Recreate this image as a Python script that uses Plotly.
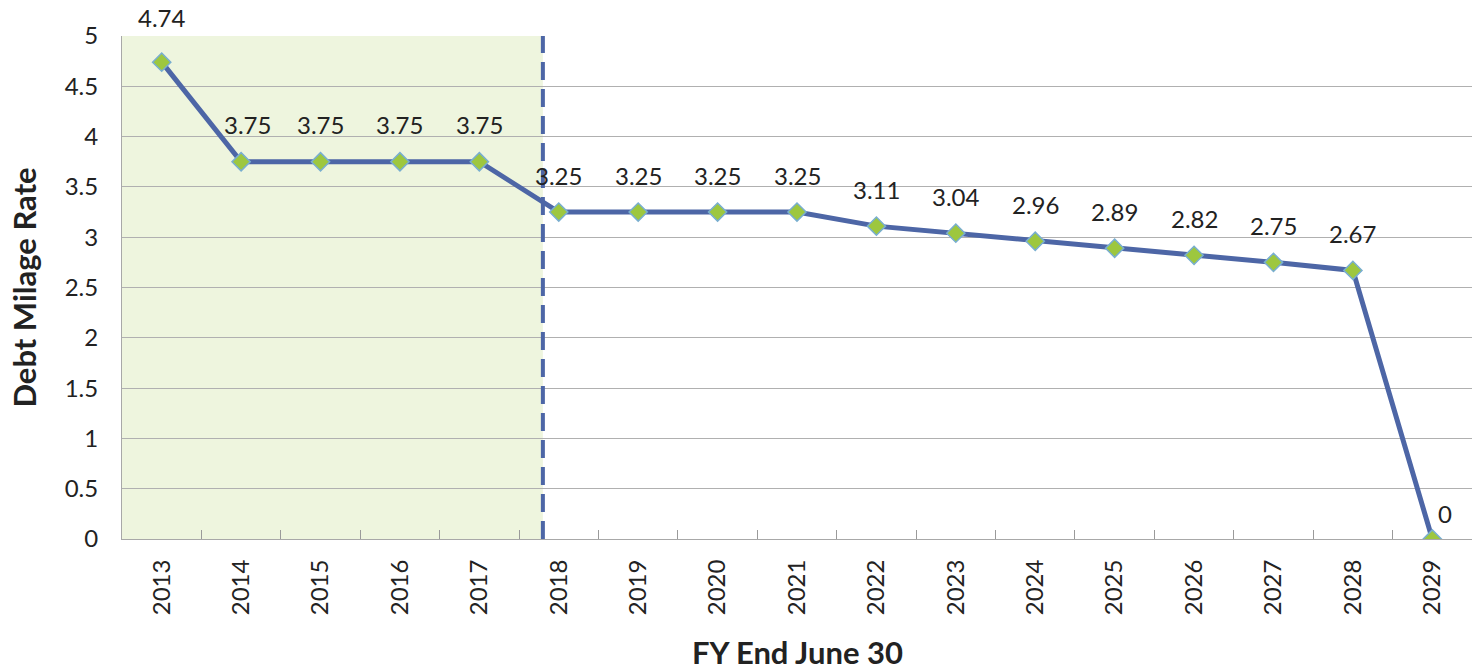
import plotly.graph_objects as go

years = ["2013", "2014", "2015", "2016", "2017", "2018", "2019", "2020", "2021",
         "2022", "2023", "2024", "2025", "2026", "2027", "2028", "2029"]
rates = [4.74, 3.75, 3.75, 3.75, 3.75, 3.25, 3.25, 3.25, 3.25,
         3.11, 3.04, 2.96, 2.89, 2.82, 2.75, 2.67, 0]
labels = ["4.74", "3.75", "3.75", "3.75", "3.75", "3.25", "3.25", "3.25", "3.25",
          "3.11", "3.04", "2.96", "2.89", "2.82", "2.75", "2.67", "0"]
y_ticks = [0, 0.5, 1, 1.5, 2, 2.5, 3, 3.5, 4, 4.5, 5]
y_tick_text = ["0", "0.5", "1", "1.5", "2", "2.5", "3", "3.5", "4", "4.5", "5"]
actual_end = 4.8  # category-index position of the dashed divider (between 2017 and 2018)

FONT = "Lato, Carlito, Calibri, sans-serif"
TXT = "#222222"

fig = go.Figure()

# shaded "actual" region
fig.add_shape(type="rect", xref="x", yref="y", x0=-0.5, x1=actual_end, y0=0, y1=5,
              fillcolor="#eef5de", line_width=0, layer="below")

fig.add_trace(go.Scatter(
    x=years, y=rates, mode="lines+markers",
    line=dict(color="#4d66a6", width=5),
    marker=dict(symbol="diamond", size=14, color="#9dc73f",
                line=dict(color="#78aed0", width=1.5)),
    hoverinfo="x+y", showlegend=False,
))

# dashed divider
fig.add_shape(type="line", xref="x", yref="y", x0=actual_end, x1=actual_end, y0=0, y1=5,
              line=dict(color="#4d66a6", width=4, dash="18px,9px"), layer="above")

# data labels (placement styling only)
for i, (v, t) in enumerate(zip(rates, labels)):
    xs, ys = 0, 37
    if i == 0:
        ys = 45
    if i == 1:
        xs = 6
    if v == 0:
        xs, ys = 13, 26
    fig.add_annotation(x=i, y=v, xref="x", yref="y", text=t, showarrow=False,
                       xshift=xs, yshift=ys,
                       font=dict(size=24, color=TXT, family=FONT))

# axis titles
fig.add_annotation(xref="paper", yref="paper", x=0, y=0.5, xshift=-99, textangle=-90,
                   text="<b>Debt Milage Rate</b>", showarrow=False,
                   xanchor="center", yanchor="middle",
                   font=dict(size=31, color=TXT, family=FONT))
fig.add_annotation(xref="paper", yref="paper", x=0.5, y=0, yshift=-113,
                   text="<b>FY End June 30</b>", showarrow=False,
                   xanchor="center", yanchor="middle",
                   font=dict(size=31, color=TXT, family=FONT))

fig.update_layout(
    width=1479, height=671,
    margin=dict(l=122, r=7, t=36, b=132, autoexpand=False),
    paper_bgcolor="white", plot_bgcolor="white",
    font=dict(family=FONT, color=TXT),
    xaxis=dict(
        type="category", tickson="boundaries", ticks="inside", ticklen=9,
        tickcolor="#9a9a9a", tickangle=-90, tickfont=dict(size=24, family=FONT, color=TXT),
        showline=True, linecolor="#a8a8a8", linewidth=1, showgrid=False,
        range=[-0.5, 16.5], automargin=False, ticklabelstandoff=10,
    ),
    yaxis=dict(
        range=[0, 5], tickvals=y_ticks, ticktext=y_tick_text,
        tickfont=dict(size=24, family=FONT, color=TXT),
        showgrid=True, gridcolor="#b0b0b0", gridwidth=1,
        showline=True, linecolor="#a8a8a8", linewidth=1, ticks="", ticklabelstandoff=18,
        zeroline=False, automargin=False,
    ),
)

fig.write_html("out.html", config={"displayModeBar": False},
               post_script="document.body.style.margin='0';document.body.style.overflow='hidden';")
